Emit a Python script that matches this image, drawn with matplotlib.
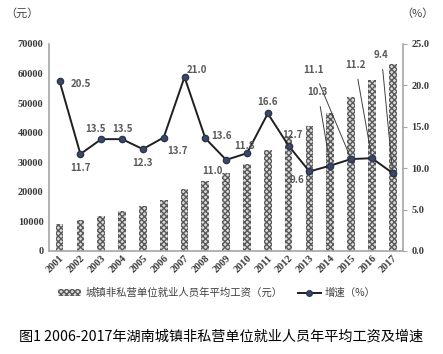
import matplotlib.pyplot as plt
from matplotlib.lines import Line2D
from matplotlib.patches import Patch

plt.rcParams['font.family'] = ['Noto Sans CJK SC', 'DejaVu Sans']
plt.rcParams['hatch.linewidth'] = 1.0

# data
years = ['2001', '2002', '2003', '2004', '2005', '2006', '2007', '2008', '2009',
         '2010', '2011', '2012', '2013', '2014', '2015', '2016', '2017']
wage = [9200, 10500, 11900, 13500, 15200, 17300, 20900, 23700, 26300,
        29400, 34300, 38700, 42400, 46800, 52000, 57800, 63200]
growth = [20.5, 11.7, 13.5, 13.5, 12.3, 13.7, 21.0, 13.6, 11.0,
          11.8, 16.6, 12.7, 9.6, 10.3, 11.1, 11.2, 9.4]
bar_label = '城镇非私营单位就业人员年平均工资（元）'
line_label = '增速（%）'
title = '图1 2006-2017年湖南城镇非私营单位就业人员年平均工资及增速'

x = list(range(len(years)))
gray = '#595959'
axis_gray = '#a6a6a6'
bar_face = '#dcdcdc'
bar_hatch = '#5a5a5a'

fig = plt.figure(figsize=(4.43, 3.54), dpi=100)
ax = fig.add_axes([0.111, 0.291, 0.799, 0.585])
ax2 = ax.twinx()

ax.bar(x, wage, width=0.37, facecolor=bar_face, edgecolor=bar_hatch,
       hatch='xxxxxx', linewidth=0, zorder=1)
ax.set_ylim(0, 70000)
ax.set_xlim(-0.5, 16.5)
ax.set_yticks(range(0, 70001, 10000))
ax.set_xticks(x)
ax.set_xticklabels(years, rotation=45, ha='right', rotation_mode='anchor')
for lab in ax.get_xticklabels() + ax.get_yticklabels():
    lab.set_fontfamily('Liberation Serif')
    lab.set_fontweight('bold')
    lab.set_fontsize(7.5)
    lab.set_color('#3a3a3a')
ax.tick_params(axis='y', length=0, pad=4)
ax.tick_params(axis='x', length=0, pad=2)

for s in ['top', 'right']:
    ax.spines[s].set_visible(False)
ax.spines['left'].set_color(axis_gray)
ax.spines['left'].set_linewidth(1.2)
ax.spines['bottom'].set_color(axis_gray)
ax.spines['bottom'].set_linewidth(1.2)

ax2.plot(x, growth, color='#1f1f1f', lw=1.4, marker='o', markersize=4.5,
         markerfacecolor='#3a4a66', markeredgecolor='#2a3550', zorder=3)
ax2.set_ylim(0, 25)
ax2.set_yticks([0, 5, 10, 15, 20, 25])
ax2.set_yticklabels(['0.0', '5.0', '10.0', '15.0', '20.0', '25.0'])
for lab in ax2.get_yticklabels():
    lab.set_fontfamily('Liberation Serif')
    lab.set_fontweight('bold')
    lab.set_fontsize(7.5)
    lab.set_color('#3a3a3a')
ax2.tick_params(axis='y', length=3, color=axis_gray, pad=3)
for s in ['top', 'left', 'bottom']:
    ax2.spines[s].set_visible(False)
ax2.spines['right'].set_color(axis_gray)
ax2.spines['right'].set_linewidth(1.2)

# data labels: (dx, dy) offsets in points
offsets = [(15, -2), (0, -10), (-4, 7), (0, 7), (0, -10), (10, -10), (9, 5),
           (12, 2), (-10, -8), (-2, 5), (0, 8), (3, 8), (-9, -6)]
for i, (dx, dy) in enumerate(offsets):
    ax2.annotate(f'{growth[i]:.1f}', (x[i], growth[i]), xytext=(dx, dy),
                 textcoords='offset points', ha='center', va='center',
                 fontsize=7, fontweight='bold', color=gray, zorder=4)

# labels with leader lines for 2014-2017
leader = [(12.4, 19.2), (12.2, 21.9), (14.2, 22.5), (15.45, 23.7)]
for i, (tx, ty) in zip(range(13, 17), leader):
    ax2.annotate(f'{growth[i]:.1f}', (x[i], growth[i]), xytext=(tx, ty),
                 textcoords='data', ha='center', va='center',
                 fontsize=7, fontweight='bold', color=gray, zorder=4,
                 arrowprops=dict(arrowstyle='-', color='#404040', lw=0.7,
                                 shrinkA=5, shrinkB=3))

fig.text(0.012, 0.962, '（元）', fontsize=8, color='#404040', va='center')
fig.text(0.905, 0.962, '（%）', fontsize=8, color='#404040', va='center')

handles = [Patch(facecolor=bar_face, edgecolor=bar_hatch, hatch='xxxxxx', linewidth=0),
           Line2D([0], [0], color='#1f1f1f', lw=1.4, marker='o', markersize=4,
                  markerfacecolor='#3a4a66', markeredgecolor='#2a3550')]
fig.legend(handles, [bar_label, line_label], loc='center', ncol=2,
           bbox_to_anchor=(0.49, 0.172), frameon=False, fontsize=7.5,
           labelcolor='#404040', handlelength=2.2, handleheight=0.6,
           columnspacing=1.5, handletextpad=0.4)

fig.text(0.5, 0.048, title, ha='center', va='center', fontsize=10.2, color='black')

fig.savefig('out.png', dpi=100)
